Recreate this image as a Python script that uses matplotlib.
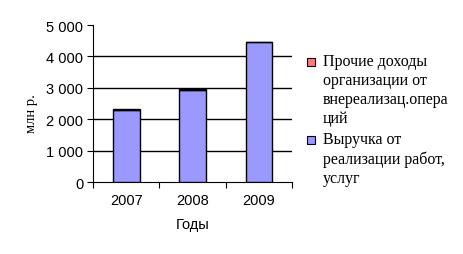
import matplotlib.pyplot as plt
from matplotlib.patches import Rectangle

years = ["2007", "2008", "2009"]
revenue = [2280, 2945, 4460]
other_income = [40, 25, 10]
yticks = [0, 1000, 2000, 3000, 4000, 5000]
ytick_labels = ["0", "1 000", "2 000", "3 000", "4 000", "5 000"]
label_other = "Прочие доходы\nорганизации от\nвнереализац.опера\nций"
label_revenue = "Выручка от\nреализации работ,\nуслуг"
color_other = "#FF7B7B"
color_revenue = "#9999FF"

fig = plt.figure(figsize=(4.63, 2.55), dpi=100)
ax = fig.add_axes([0.201, 0.282, 0.430, 0.616])

x = list(range(len(years)))
ax.bar(x, revenue, width=0.4, color=color_revenue, edgecolor="black", linewidth=1, zorder=3)
ax.bar(x, other_income, width=0.4, bottom=revenue, color=color_other,
       edgecolor="black", linewidth=1, zorder=3)

ax.set_xlim(-0.5, 2.5)
ax.set_ylim(0, 5000)
ax.set_yticks(yticks)
ax.set_yticklabels(ytick_labels, fontsize=10.5, family="Liberation Sans")
for y in yticks[1:-1]:
    ax.axhline(y, color="black", linewidth=1, zorder=1)

# category labels centred, ticks on category boundaries
ax.set_xticks([-0.5, 0.5, 1.5, 2.5])
ax.set_xticklabels([])
ax.set_xticks(x, minor=True)
ax.set_xticklabels(years, minor=True, fontsize=10.5, family="Liberation Sans")
ax.tick_params(axis="x", which="minor", length=0, pad=8)
ax.tick_params(axis="x", which="major", length=4, direction="out")
ax.tick_params(axis="y", length=4, direction="out", pad=3)

for s in ["top", "right"]:
    ax.spines[s].set_visible(False)

ax.set_xlabel("Годы", fontsize=10.5, family="Liberation Sans", labelpad=7)
ax.set_ylabel("млн р.", fontsize=10.5, family="Liberation Serif")
ax.yaxis.set_label_coords(-0.275, 0.44)

# legend drawn by hand: swatch aligned with first line of each entry
W, H = 463, 255
entries = [(label_other, color_other, 63), (label_revenue, color_revenue, 141)]
for text, col, ypx in entries:
    fig.patches.append(Rectangle((307 / W, 1 - (ypx + 4) / H), 8 / W, 8 / H,
                                 transform=fig.transFigure, facecolor=col,
                                 edgecolor="black", linewidth=0.8))
    fig.text(323 / W, 1 - (ypx - 9) / H, text, ha="left", va="top",
             fontsize=11.5, family="Liberation Serif", linespacing=1.25)

fig.savefig("out.png", dpi=100)
